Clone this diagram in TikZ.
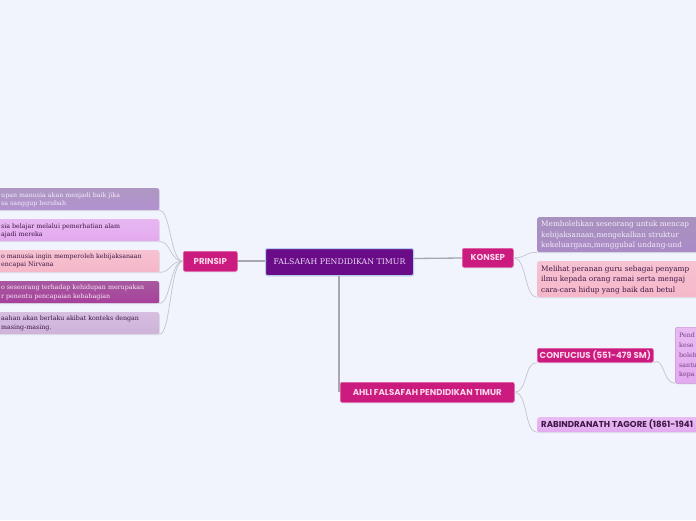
\documentclass[tikz,border=0pt]{standalone}
\usepackage{fontspec}
\newfontfamily\leaffont{DejaVu Serif}
\newfontfamily\headfont{Poppins}
\usetikzlibrary{shadows}
\definecolor{bgc}{HTML}{F1F4FD}
\definecolor{centc}{HTML}{6A0B87}
\definecolor{centb}{HTML}{B4CDEE}
\definecolor{centt}{HTML}{EADAF6}
\definecolor{magc}{HTML}{CC1B7E}
\definecolor{magb}{HTML}{E060A4}
\definecolor{magt}{HTML}{FAD6EA}
\definecolor{linec}{HTML}{C4C4CC}
\definecolor{purgc}{HTML}{9A7EB4}
\definecolor{violc}{HTML}{E3AAEF}
\definecolor{pinkc}{HTML}{F5B7C9}
\definecolor{plumc}{HTML}{983B8E}
\definecolor{lilac}{HTML}{CFB3DA}
\definecolor{darkt}{HTML}{3E1846}
\definecolor{lightt}{HTML}{F4ECF7}
\definecolor{midt}{HTML}{7A3E8A}
\begin{document}
\begin{tikzpicture}[x=1pt,y=-1pt,
  box/.style={rectangle, rounded corners=2pt, inner sep=0pt, anchor=north west,
    drop shadow={opacity=0.18, shadow xshift=0.6pt, shadow yshift=-1pt}},
  mag/.style={box, fill=magc, draw=magb, line width=0.6pt, text=magt,
    font=\headfont\bfseries\fontsize{8.6}{9}\selectfont},
  link/.style={draw=linec, line width=0.7pt},
  trunk/.style={draw=linec!85!black, line width=1.3pt},
  ltext/.style={anchor=west, inner sep=0pt, font=\leaffont\fontsize{6.3}{7}\selectfont},
  ktext/.style={anchor=west, inner sep=0pt, font=\leaffont\fontsize{7.3}{8}\selectfont},
  ctext/.style={anchor=west, inner sep=0pt, font=\leaffont\fontsize{6.3}{7}\selectfont, text=midt}]
\useasboundingbox (0,0) rectangle (696,520);
\fill[bgc] (0,0) rectangle (696,520);
\clip (0,0) rectangle (696,520);
\coordinate (cx) at (171,0);

% straight connectors (drawn first so boxes sit on top)
\coordinate (ct) at (339,261.5);
\draw[trunk] (ct) -- (ct |- 0,392);
\draw[trunk] (237,261) -- (265,261);
\draw[trunk] (413,258.5) -- (462,258);

% main nodes
\node[box, fill=centc, draw=centb, line width=1pt, minimum width=148pt, minimum height=27pt,
  text=centt, font=\leaffont\fontsize{7.8}{8}\selectfont] (c) at (265,248) {FALSAFAH PENDIDIKAN TIMUR};
\node[mag, minimum width=54pt, minimum height=20pt] (p) at (183,251) {PRINSIP};
\node[mag, minimum width=51pt, minimum height=19pt] (k) at (462,248) {KONSEP};
\node[mag, minimum width=174pt, minimum height=20pt] (a) at (340,382) {AHLI FALSAFAH PENDIDIKAN TIMUR};
\node[mag, minimum width=116pt, minimum height=14pt] (cf) at (537,348) {CONFUCIUS (551-479 SM)};

% left leaves
\node[box, top color=purgc!80, bottom color=purgc!115!black, minimum width=320pt, minimum height=22pt] (l1) at (-161,188) {};
\node[box, top color=violc!85, bottom color=violc, minimum width=320pt, minimum height=22pt] (l2) at (-161,219) {};
\node[box, top color=pinkc!85, bottom color=pinkc, minimum width=320pt, minimum height=22pt] (l3) at (-161,250) {};
\node[box, top color=plumc!85, bottom color=plumc!110!black, minimum width=320pt, minimum height=22pt] (l4) at (-161,281) {};
\node[box, top color=lilac!85, bottom color=lilac, minimum width=320pt, minimum height=22pt] (l5) at (-161,312) {};

\node[ltext, text=lightt] (l1a) at (1,195.5) {upan manusia akan menjadi baik jika};
\node[ltext, text=lightt] (l1b) at (1,203.5) {sa sanggup berubah};
\node[ltext, text=darkt] (l2a) at (1,226.5) {sia belajar melalui pemerhatian alam};
\node[ltext, text=darkt] (l2b) at (1,234.5) {ajadi mereka};
\node[ltext, text=darkt] (l3a) at (1,256.5) {o manusia ingin memperoleh kebijaksanaan};
\node[ltext, text=darkt] (l3b) at (1,265) {encapai Nirvana};
\node[ltext, text=lightt] (l4a) at (1,288) {o seseorang terhadap kehidupan merupakan};
\node[ltext, text=lightt] (l4b) at (1,296.5) {r penentu pencapaian kebahagian};
\node[ltext, text=darkt] (l5a) at (1,319) {aahan akan berlaku akibat konteks dengan};
\node[ltext, text=darkt] (l5b) at (1,327.5) {masing-masing.};

% konsep leaves
\node[box, top color=purgc!85, bottom color=purgc!110!black, minimum width=200pt, minimum height=35pt] (k1) at (537,217) {};
\node[box, top color=pinkc!85, bottom color=pinkc, minimum width=200pt, minimum height=36pt] (k2) at (537,261) {};
\node[ktext, text=lightt] (k1a) at (541,225) {Membolehkan seseorang untuk mencap};
\node[ktext, text=lightt] (k1b) at (541,235.5) {kebijaksanaan,mengekalkan struktur};
\node[ktext, text=lightt] (k1c) at (541,246) {kekeluargaan,menggubal undang-und};
\node[ktext, text=darkt] (k2a) at (541,269.5) {Melihat peranan guru sebagai penyamp};
\node[ktext, text=darkt] (k2b) at (541,280) {ilmu kepada orang ramai serta mengaj};
\node[ktext, text=darkt] (k2c) at (541,290.5) {cara-cara hidup yang baik dan betul};

% confucius leaf
\node[box, top color=violc!80, bottom color=violc, draw=violc!90!black, line width=0.5pt, minimum width=60pt, minimum height=56pt] (cc) at (675,327) {};
\node[ctext] (cc1) at (679,335) {Pend};
\node[ctext] (cc2) at (679,345) {kese};
\node[ctext] (cc3) at (679,355) {boleh};
\node[ctext] (cc4) at (679,365) {santu};
\node[ctext] (cc5) at (679,375) {kepa};

% rabindranath
\node[box, top color=violc!80, bottom color=violc, minimum width=200pt, minimum height=15pt] (rb) at (537,417) {};
\node[anchor=west, inner sep=0pt, text=darkt, font=\headfont\bfseries\fontsize{8.6}{9}\selectfont] (rbt) at (541,424.5) {RABINDRANATH TAGORE (1861-1941};

% curved connectors
\foreach \l in {l1,l2,l3,l4,l5}
  \draw[link] (p.west) .. controls (170,261) and (\l.south east -| cx) .. (\l.south east);
\draw[link] (k.east) .. controls (527,258) and (524,252) .. (k1.south west);
\draw[link] (k.east) .. controls (527,258) and (524,297) .. (k2.south west);
\draw[link] (a.east) .. controls (528,392) and (524,362) .. (cf.south west);
\draw[link] (a.east) .. controls (528,392) and (524,432) .. (rb.south west);
\draw[link] (cf.south east) .. controls (664,356) and (663,383) .. (cc.south west);
\end{tikzpicture}
\end{document}
